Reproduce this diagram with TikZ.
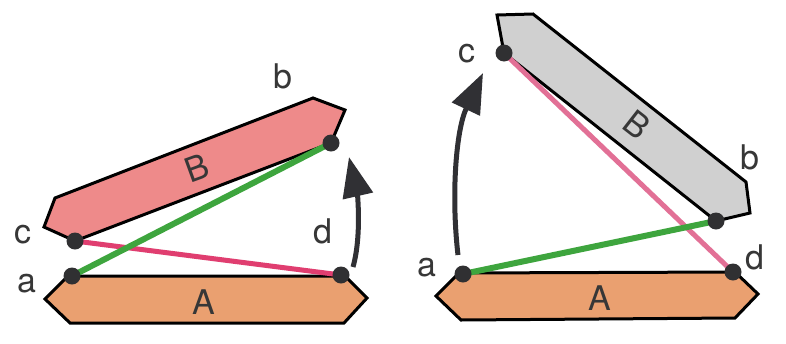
\documentclass[tikz,border=0pt]{standalone}
\usepackage{fontspec}
\setmainfont{TeX Gyre Heros}
\usetikzlibrary{arrows.meta}
\definecolor{barA}{RGB}{234,160,112}
\definecolor{barBl}{RGB}{238,138,138}
\definecolor{barBr}{RGB}{208,208,208}
\definecolor{lnkl}{RGB}{224,62,112}
\definecolor{lnkr}{RGB}{226,112,150}
\definecolor{grn}{RGB}{62,165,62}
\definecolor{dotc}{RGB}{48,48,50}
\definecolor{arr}{RGB}{48,48,52}
\definecolor{txt}{RGB}{55,55,55}
\begin{document}
\begin{tikzpicture}[x=1pt,y=-1pt,
  bar/.style={draw=black,line width=3pt,line join=miter},
  pivot/.style={circle,fill=dotc,minimum size=17pt,inner sep=0pt},
  lbl/.style={inner sep=0pt,font=\fontsize{34}{40}\selectfont,text=txt},
  rodpink/.style={line width=5pt},
  rodgreen/.style={line width=6pt,draw=grn},
  turn/.style={line width=5pt,draw=arr,-{Triangle[length=40pt,width=30pt]}}]
\useasboundingbox[fill=white] (0,0) rectangle (786,343);
% ---------- left mechanism ----------
\coordinate (La) at (72,276);
\coordinate (Lb) at (331,143);
\coordinate (Lc) at (75,241);
\coordinate (Ld) at (341,275);
\filldraw[bar,fill=barA] (45,299) -- (68,276) -- (345,276) -- (367,298) -- (344,323) -- (70,323) -- cycle;
\filldraw[bar,fill=barBl] (Lc) -- (44,227) -- (55,198) -- (313,98) -- (345,110) -- (Lb) -- cycle;
\draw[rodpink,draw=lnkl] (Lc) -- (Ld);
\draw[rodgreen] (La) -- (Lb);
\node[pivot] (pLa) at (La) {};
\node[pivot] (pLb) at (Lb) {};
\node[pivot] (pLc) at (Lc) {};
\node[pivot] (pLd) at (Ld) {};
\coordinate (LarS) at (353,267);
\coordinate (LarE) at (349,157);
\draw[turn] (LarS) .. controls (362,235) and (357,192) .. (LarE);
\node[lbl] (tLa) at (27,284) {a};
\node[lbl] (tLb) at (283,76) {b};
\node[lbl] (tLc) at (23,235) {c};
\node[lbl] (tLd) at (323,231) {d};
\node[lbl] (tLA) at (204,302) {A};
\node[lbl,rotate=20] (tLB) at (197,168) {B};
% ---------- right mechanism ----------
\coordinate (Ra) at (463,274);
\coordinate (Rb) at (716,221);
\coordinate (Rc) at (504,53);
\coordinate (Rd) at (733,272);
\filldraw[bar,fill=barA] (436,296) -- (459,273) -- (735,272) -- (758,294) -- (735,318) -- (461,320) -- cycle;
\filldraw[bar,fill=barBr] (Rc) -- (497,15) -- (533,14) -- (746,182) -- (750,213) -- (Rb) -- cycle;
\draw[rodpink,draw=lnkr] (Rc) -- (Rd);
\draw[rodgreen] (Ra) -- (Rb);
\node[pivot] (pRa) at (Ra) {};
\node[pivot] (pRb) at (Rb) {};
\node[pivot] (pRc) at (Rc) {};
\node[pivot] (pRd) at (Rd) {};
\coordinate (RarS) at (458,255);
\coordinate (RarE) at (483,73);
\draw[turn] (RarS) .. controls (451,195) and (456,130) .. (RarE);
\node[lbl] (tRa) at (427,268) {a};
\node[lbl] (tRb) at (750,157) {b};
\node[lbl] (tRc) at (467,54) {c};
\node[lbl] (tRd) at (755,257) {d};
\node[lbl] (tRA) at (600,298) {A};
\node[lbl,rotate=-38] (tRB) at (637,125) {B};
\end{tikzpicture}
\end{document}
